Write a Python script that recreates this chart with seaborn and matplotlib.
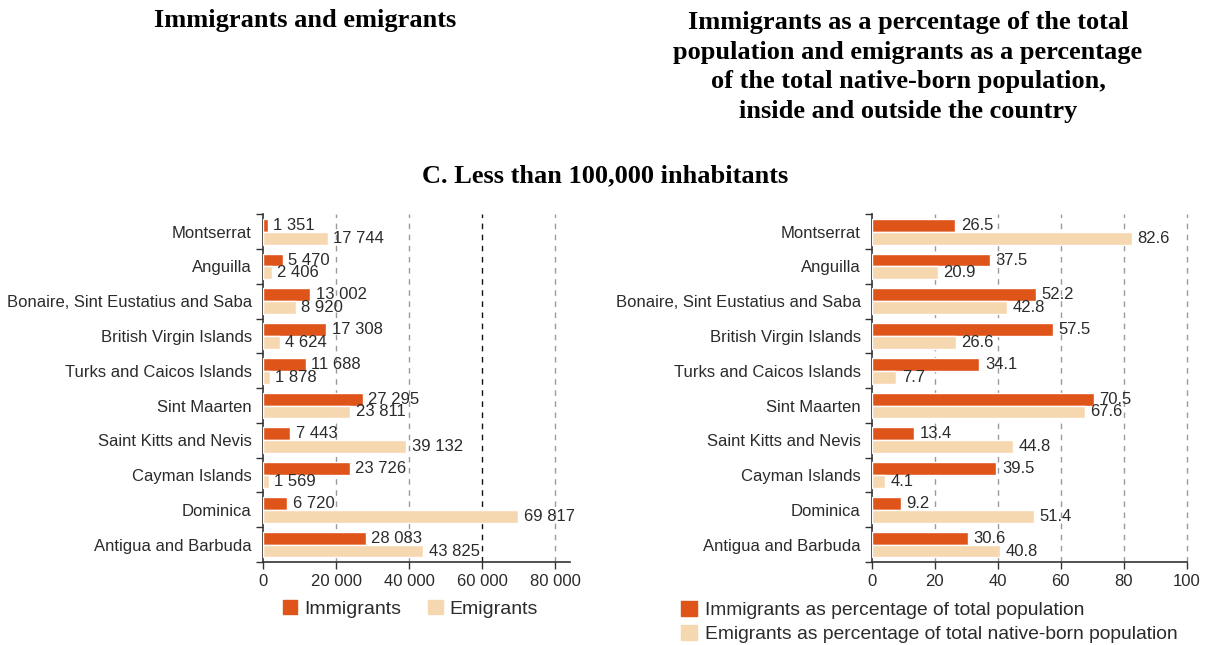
import numpy as np
import pandas as pd
import matplotlib
matplotlib.use("Agg")
import matplotlib.pyplot as plt
from matplotlib.patches import Patch
import seaborn as sns

countries = ["Montserrat", "Anguilla", "Bonaire, Sint Eustatius and Saba",
             "British Virgin Islands", "Turks and Caicos Islands", "Sint Maarten",
             "Saint Kitts and Nevis", "Cayman Islands", "Dominica", "Antigua and Barbuda"]
immigrants = [1351, 5470, 13002, 17308, 11688, 27295, 7443, 23726, 6720, 28083]
emigrants = [17744, 2406, 8920, 4624, 1878, 23811, 39132, 1569, 69817, 43825]
imm_pct = [26.5, 37.5, 52.2, 57.5, 34.1, 70.5, 13.4, 39.5, 9.2, 30.6]
emi_pct = [82.6, 20.9, 42.8, 26.6, 7.7, 67.6, 44.8, 4.1, 51.4, 40.8]

C_IMM = "#DF5419"
C_EMI = "#F6D8B0"
TXT = "#2b2b2b"

sns.set_style("white")
plt.rcParams["font.family"] = ["Liberation Sans", "DejaVu Sans"]

fig = plt.figure(figsize=(12.06, 6.45), dpi=100)
ax1 = fig.add_axes([0.218, 0.1287, 0.2546, 0.539])
ax2 = fig.add_axes([0.723, 0.1287, 0.261, 0.539])

abs_df = pd.DataFrame({
    "country": countries * 2,
    "value": immigrants + emigrants,
    "series": ["Immigrants"] * 10 + ["Emigrants"] * 10,
})
pct_df = pd.DataFrame({
    "country": countries * 2,
    "value": imm_pct + emi_pct,
    "series": ["Imm"] * 10 + ["Emi"] * 10,
})


def draw(ax, df, fmt, xlim, ticks, ticklabels, black_at=None):
    sns.barplot(data=df, y="country", x="value", hue="series", orient="h",
                palette=[C_IMM, C_EMI], width=0.74, ax=ax, legend=False,
                saturation=1, zorder=3)
    for cont in ax.containers:
        ax.bar_label(cont, labels=[fmt(v) for v in cont.datavalues],
                     padding=4, fontsize=12, color=TXT)
    for t in ticks[1:]:
        col = "#111111" if t == black_at else "#9a9a9a"
        ax.axvline(t, color=col, ls=(0, (4, 4)), lw=1.0, zorder=1, clip_on=False)
    ax.set_xlim(*xlim)
    ax.set_ylim(9.5, -0.5)
    ax.set_xticks(ticks)
    ax.set_xticklabels(ticklabels, fontsize=12, color=TXT)
    ax.set_yticks(range(10))
    ax.set_yticklabels(countries, fontsize=12, color=TXT)
    ax.set_yticks(np.arange(-0.5, 9.6, 1), minor=True)
    ax.tick_params(axis="y", which="major", length=0, pad=8)
    ax.tick_params(axis="y", which="minor", length=5, width=1, color="#333333", left=True)
    ax.tick_params(axis="x", length=5, width=1, color="#333333", bottom=True, pad=4)
    ax.set_xlabel("")
    ax.set_ylabel("")
    sns.despine(ax=ax, top=True, right=True)
    for s in ["left", "bottom"]:
        ax.spines[s].set_color("#333333")
        ax.spines[s].set_linewidth(1.2)


draw(ax1, abs_df, lambda v: f"{int(v):,}".replace(",", " "), (0, 84000),
     [0, 20000, 40000, 60000, 80000], ["0", "20 000", "40 000", "60 000", "80 000"],
     black_at=60000)
draw(ax2, pct_df, lambda v: f"{v:.1f}", (0, 100),
     [0, 20, 40, 60, 80, 100], ["0", "20", "40", "60", "80", "100"])

ax1.legend(handles=[Patch(color=C_IMM, label="Immigrants"),
                    Patch(color=C_EMI, label="Emigrants")],
           loc="center", bbox_to_anchor=(0.48, -0.135), ncol=2, frameon=False,
           fontsize=14, handlelength=0.75, handleheight=0.75, columnspacing=1.4,
           handletextpad=0.35, labelcolor=TXT)
ax2.legend(handles=[Patch(color=C_IMM, label="Immigrants as percentage of total population"),
                    Patch(color=C_EMI, label="Emigrants as percentage of total native-born population")],
           loc="upper left", bbox_to_anchor=(-0.63, -0.09), ncol=1, frameon=False,
           fontsize=13.9, handlelength=0.8, handleheight=0.8, labelspacing=0.32,
           handletextpad=0.4, labelcolor=TXT, borderaxespad=0)

serif = ["Liberation Serif", "DejaVu Serif"]
fig.text(305 / 1206, 1 - 20 / 645, "Immigrants and emigrants", ha="center", va="center",
         fontsize=19, fontweight="bold", family=serif, color="black")
fig.text(908 / 1206, 1 - 67 / 645,
         "Immigrants as a percentage of the total\npopulation and emigrants as a percentage\n"
         "of the total native-born population,\ninside and outside the country",
         ha="center", va="center", fontsize=19, fontweight="bold", family=serif,
         linespacing=1.37, color="black")
fig.text(605 / 1206, 1 - 176 / 645, "C. Less than 100,000 inhabitants", ha="center",
         va="center", fontsize=19, fontweight="bold", family=serif, color="black")

fig.savefig("out.png", dpi=100)
